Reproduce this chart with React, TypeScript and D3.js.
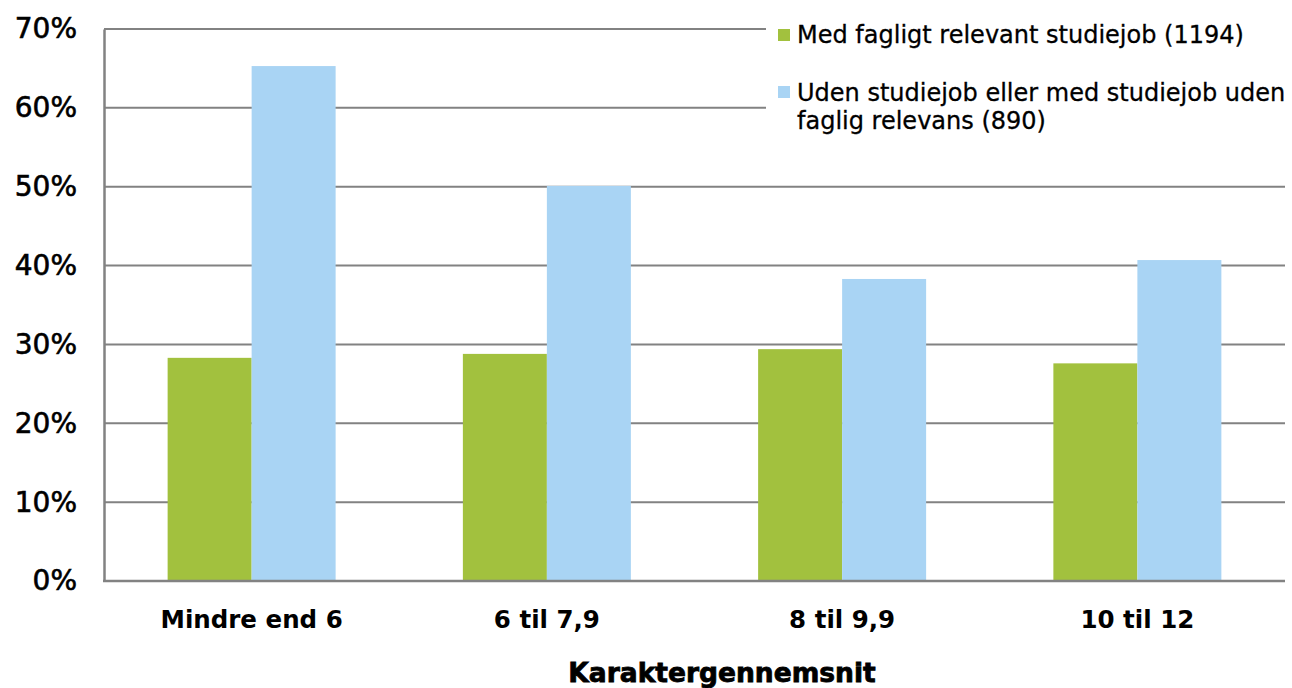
import { useEffect, useRef } from 'react';
import { select, scaleBand, scaleLinear, axisLeft } from 'd3';

const categories = ['Mindre end 6', '6 til 7,9', '8 til 9,9', '10 til 12'];
const seriesNames = ['Med fagligt relevant studiejob (1194)', 'Uden studiejob eller med studiejob uden', 'faglig relevans (890)'];
const relevant = [28.3, 28.8, 29.4, 27.6];
const notRelevant = [65.3, 50.1, 38.3, 40.7];
const yTicks = [0, 10, 20, 30, 40, 50, 60, 70];
const colors = ['#a2c13e', '#a9d4f4'];

const W = 1292;
const H = 688;
const margin = { top: 29, right: 7, bottom: 107, left: 104 };

const App = () => {
    const svgRef = useRef(null);

    useEffect(() => {
        const svg = select(svgRef.current);
        svg.selectAll('*').remove();

        const x = scaleBand()
            .domain(categories)
            .range([margin.left, W - margin.right])
            .paddingInner(0.431)
            .paddingOuter(0.2155);

        const y = scaleLinear()
            .domain([0, 70])
            .range([H - margin.bottom, margin.top]);

        // gridlines
        svg.append('g')
            .selectAll('line')
            .data(yTicks.slice(1))
            .join('line')
            .attr('x1', margin.left)
            .attr('x2', W - margin.right)
            .attr('y1', d => y(d))
            .attr('y2', d => y(d))
            .attr('stroke', '#828282')
            .attr('stroke-width', 2);

        // legend background hides grid behind it
        svg.append('rect')
            .attr('x', 766)
            .attr('y', 0)
            .attr('width', W - 766)
            .attr('height', 140)
            .attr('fill', '#fff');

        const bw = x.bandwidth() / 2;
        const groups = [relevant, notRelevant];
        groups.forEach((vals, si) => {
            svg.append('g')
                .selectAll('rect')
                .data(vals)
                .join('rect')
                .attr('x', (d, i) => x(categories[i]) + si * bw)
                .attr('y', d => y(d))
                .attr('width', bw)
                .attr('height', d => y(0) - y(d))
                .attr('fill', colors[si]);
        });

        // axes
        const yAxis = svg.append('g')
            .attr('transform', `translate(${margin.left},0)`)
            .call(axisLeft(y).tickValues(yTicks).tickFormat(d => d + '%').tickSize(0).tickPadding(27));
        yAxis.select('.domain').attr('stroke', '#828282').attr('stroke-width', 2.5);
        yAxis.selectAll('text')
            .attr('font-family', 'DejaVu Sans')
            .attr('font-size', 28)
            .attr('fill', '#000')
            .attr('stroke', '#000')
            .attr('stroke-width', 0.6);

        svg.append('line')
            .attr('x1', margin.left - 1)
            .attr('x2', W - margin.right)
            .attr('y1', y(0))
            .attr('y2', y(0))
            .attr('stroke', '#828282')
            .attr('stroke-width', 2.5);

        svg.append('g')
            .selectAll('text')
            .data(categories)
            .join('text')
            .attr('x', d => x(d) + x.bandwidth() / 2)
            .attr('y', 628)
            .attr('text-anchor', 'middle')
            .attr('font-family', 'DejaVu Sans')
            .attr('font-weight', 'bold')
            .attr('font-size', 24.5)
            .text(d => d);

        svg.append('text')
            .attr('x', 722)
            .attr('y', 682)
            .attr('text-anchor', 'middle')
            .attr('font-family', 'DejaVu Sans')
            .attr('font-weight', 'bold')
            .attr('font-size', 26.5)
            .attr('stroke', '#000')
            .attr('stroke-width', 0.8)
            .text('Karaktergennemsnit');

        // legend
        const leg = svg.append('g');
        leg.append('rect').attr('x', 778).attr('y', 29).attr('width', 12).attr('height', 12).attr('fill', colors[0]);
        leg.append('rect').attr('x', 778).attr('y', 86).attr('width', 12).attr('height', 12).attr('fill', colors[1]);
        [[seriesNames[0], 43], [seriesNames[1], 101], [seriesNames[2], 129]].forEach(([t, yy]) => {
            leg.append('text')
                .attr('x', 797)
                .attr('y', yy)
                .attr('font-family', 'DejaVu Sans')
                .attr('font-size', 24)
                .attr('fill', '#000')
                .attr('stroke', '#000')
                .attr('stroke-width', 0.3)
                .text(t);
        });
    }, []);

    return (
        <svg ref={svgRef} width={W} height={H} style={{ position: 'absolute', left: 0, top: 0, background: '#fff' }} />
    );
};

export default App;
